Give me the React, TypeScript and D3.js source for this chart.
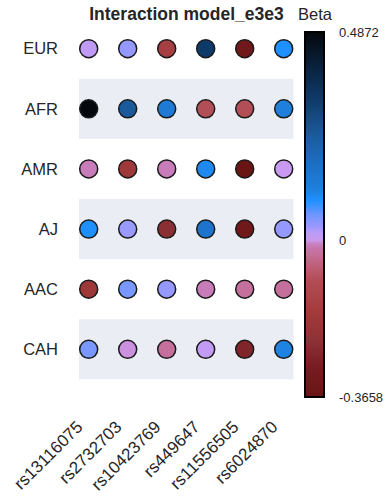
import React from "react";
import * as d3 from "d3";

const populations = ["EUR", "AFR", "AMR", "AJ", "AAC", "CAH"];
const snps = ["rs13116075", "rs2732703", "rs10423769", "rs449647", "rs11556505", "rs6024870"];

const betaEUR = [0.012, 0.035, -0.15, 0.33, -0.33, 0.094];
const betaAFR = [0.4872, 0.25, 0.14, -0.09, -0.09, 0.12];
const betaAMR = [-0.009, -0.18, -0.009, 0.105, -0.3658, 0.002];
const betaAJ = [0.095, 0.033, -0.24, 0.16, -0.33, 0.035];
const betaAAC = [-0.18, 0.055, 0.035, -0.009, -0.03, -0.03];
const betaCAH = [0.055, -0.003, -0.03, 0.01, -0.27, 0.115];

const betaRows = [betaEUR, betaAFR, betaAMR, betaAJ, betaAAC, betaCAH];

const betaMin = -0.3658;
const betaMax = 0.4872;
const colorbarTicks = [betaMax, 0, betaMin];
const colorbarTickLabels = ["0.4872", "0", "-0.3658"];

const cmapValues = [-0.3658, -0.3, -0.24, -0.17, -0.09, -0.04, -0.01, 0, 0.02, 0.035, 0.055, 0.094, 0.12, 0.16, 0.25, 0.33, 0.4872];
const cmapColors = ["#6a1414", "#761c20", "#8a3034", "#a23a3a", "#b24e56", "#c46a90", "#c87ab4", "#cc99f0", "#b89cf8", "#9598ff", "#7898ff", "#1e90ff", "#1e80dc", "#1e74cc", "#1a5a9a", "#0e3a6a", "#05080c"];

const title = "Interaction model_e3e3";
const colorbarTitle = "Beta";

export default function App() {
  const width = 386;
  const height = 500;
  const x = d3.scalePoint<string>().domain(snps).range([88.7, 283.7]);
  const y = d3.scalePoint<string>().domain(populations).range([48.7, 349.3]);
  const color = d3.scaleLinear<string>().domain(cmapValues).range(cmapColors).interpolate(d3.interpolateRgb);
  const cbY = d3.scaleLinear().domain([betaMin, betaMax]).range([397, 32]);
  const rowStep = y.step();
  const colStep = x.step();
  const font = "'Liberation Sans', Arial, sans-serif";
  const textColor = "#262626";
  const gradStops = d3.range(0, 1.0001, 0.01).map((t) => ({ t, c: color(betaMax - t * (betaMax - betaMin)) }));
  const bandLeft = (x(snps[0]) as number) - colStep * 0.25;
  const bandRight = (x(snps[snps.length - 1]) as number) + colStep * 0.25;

  return (
    <svg width={width} height={height} style={{ position: "absolute", left: 0, top: 0, background: "#fff" }} fontFamily={font}>
      <defs>
        <linearGradient id="cb" x1="0" y1="0" x2="0" y2="1">
          {gradStops.map((s, i) => (
            <stop key={i} offset={`${s.t * 100}%`} stopColor={s.c} />
          ))}
        </linearGradient>
      </defs>
      {populations.map((p, i) =>
        i % 2 === 1 ? (
          <rect key={p} x={bandLeft} width={bandRight - bandLeft} y={(y(p) as number) - rowStep / 2} height={rowStep} fill="#eaeef4" />
        ) : null
      )}
      <text x={186.5} y={20} textAnchor="middle" fontWeight="bold" fontSize={17.5} fill={textColor}>{title}</text>
      <text x={315} y={20} textAnchor="middle" fontSize={16.5} fill={textColor}>{colorbarTitle}</text>
      {populations.map((p) => (
        <text key={p} x={58} y={(y(p) as number)} dy="0.35em" textAnchor="end" fontSize={16.5} fill={textColor}>{p}</text>
      ))}
      {betaRows.map((row, i) =>
        row.map((v, j) => (
          <circle key={`${i}-${j}`} cx={x(snps[j])} cy={y(populations[i])} r={9} fill={color(v)} stroke="#1a1a1a" strokeWidth={1.5} />
        ))
      )}
      {snps.map((s) => (
        <text key={s} transform={`translate(${(x(s) as number) - 5},428) rotate(-45)`} textAnchor="end" fontSize={17} fill={textColor}>{s}</text>
      ))}
      <rect x={305} y={cbY(betaMax)} width={19} height={cbY(betaMin) - cbY(betaMax)} fill="url(#cb)" stroke="#000" strokeWidth={2} />
      {colorbarTicks.map((t, i) => (
        <text key={i} x={339} y={cbY(t)} dy="0.35em" fontSize={13} fill={textColor}>{colorbarTickLabels[i]}</text>
      ))}
    </svg>
  );
}
